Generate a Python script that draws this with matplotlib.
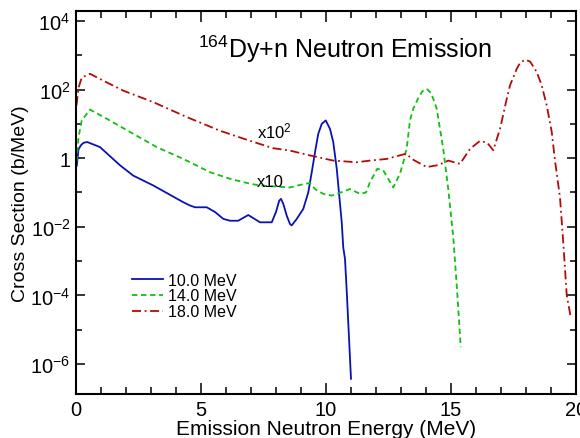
import numpy as np
import matplotlib
matplotlib.use("Agg")
import matplotlib.pyplot as plt
from matplotlib.ticker import FixedLocator, FixedFormatter

plt.rcParams['font.family'] = ['Liberation Sans', 'DejaVu Sans']
plt.rcParams['mathtext.fontset'] = 'custom'
plt.rcParams['mathtext.rm'] = 'Liberation Sans'
plt.rcParams['mathtext.it'] = 'Liberation Sans:italic'
plt.rcParams['mathtext.bf'] = 'Liberation Sans:bold'

# Emission spectra for 164Dy+n at three incident energies (14 MeV scaled x10, 18 MeV x100)
e10 = [0.03, 0.1, 0.2, 0.3, 0.45, 0.96, 1.76, 2.29, 3.09, 4.29, 4.55, 4.76, 5.23, 5.56, 5.89,
       6.16, 6.49, 6.89, 7.36, 7.83, 8.0, 8.13, 8.2, 8.29, 8.43, 8.56, 8.63, 8.83, 9.09,
       9.29, 9.43, 9.56, 9.69, 9.83, 9.99, 10.16, 10.29, 10.43, 10.53, 10.63, 10.69, 10.76,
       10.83, 11.0]
xs10 = [0.6, 1.8, 2.4, 2.8, 2.95, 2.1, 0.62, 0.31, 0.16, 0.052, 0.042, 0.037, 0.037, 0.027,
        0.017, 0.015, 0.015, 0.022, 0.0135, 0.0135, 0.027, 0.058, 0.065, 0.047, 0.021, 0.012,
        0.011, 0.017, 0.033, 0.10, 0.39, 1.48, 5.1, 10.0, 12.6, 7.1, 2.95, 0.49, 0.081,
        0.0135, 0.0025, 0.00115, 0.00013, 3.7e-7]

e14 = [0.02, 0.1, 0.23, 0.56, 1.23, 2.16, 3.23, 4.29, 5.36, 6.16, 6.96, 7.36, 8.56, 8.96,
       9.36, 9.56, 9.89, 10.23, 10.56, 10.96, 11.36, 11.6, 11.76, 12.05, 12.29, 12.69,
       12.96, 13.1, 13.23, 13.36, 13.49, 13.69, 13.85, 14.03, 14.2, 14.29, 14.43, 14.56,
       14.69, 14.89, 15.09, 15.23, 15.39]
xs14 = [0.8, 4.0, 12.6, 26.0, 14.1, 5.8, 2.1, 0.95, 0.39, 0.25, 0.18, 0.16, 0.14, 0.166,
        0.19, 0.126, 0.091, 0.081, 0.098, 0.126, 0.091, 0.10, 0.20, 0.49, 0.44, 0.14,
        0.355, 0.79, 2.0, 12.6, 27.5, 56.0, 89.0, 105.0, 79.0, 54.0, 27.5, 7.1,
        1.86, 0.126, 0.005, 0.000195, 3.1e-6]

e18 = [0.02, 0.1, 0.23, 0.56, 1.09, 1.89, 3.09, 4.43, 5.76, 6.96, 7.89, 8.56, 9.36, 10.29,
       11.23, 11.76, 12.43, 13.2, 13.5, 14.03, 14.5, 14.89, 15.36, 15.76, 16.16, 16.45,
       16.69, 16.96, 17.23, 17.36, 17.63, 17.76, 17.96, 18.16, 18.43, 18.63, 18.83, 19.03,
       19.16, 19.36, 19.49, 19.63, 19.79]
xs18 = [35.0, 112.0, 224.0, 288.0, 182.0, 93.0, 43.0, 15.8, 6.3, 3.2, 1.95, 1.66, 1.2, 0.85,
        0.76, 0.85, 0.95, 1.35, 0.89, 0.55, 0.63, 0.85, 0.68, 1.86, 3.2, 2.8,
        1.7, 7.1, 54.0, 132.0, 400.0, 600.0, 740.0, 660.0, 324.0, 132.0, 34.0, 5.8,
        0.85, 0.071, 0.0035, 0.0001, 2.3e-5]

labels = ['10.0 MeV', '14.0 MeV', '18.0 MeV']

fig = plt.figure(figsize=(5.8, 4.39), dpi=100)
ax = fig.add_axes([76/580, 1 - 395/439, 500/580, 383/439])

ax.plot(e10, xs10, color='#0a12b4', lw=1.3, ls='-', label=labels[0])
ax.plot(e14, xs14, color='#10c010', lw=1.3, ls=(0, (3, 2)), label=labels[1])
ax.plot(e18, xs18, color='#b40a0a', lw=1.3, ls=(0, (5, 2, 1, 2)), label=labels[2])

ax.set_yscale('log')
ax.set_xlim(0, 20)
ax.set_ylim(10**-6.875, 10**4.29)

ax.xaxis.set_major_locator(FixedLocator([0, 5, 10, 15, 20]))
ax.xaxis.set_minor_locator(FixedLocator([i for i in range(21) if i % 5]))
ax.yaxis.set_major_locator(FixedLocator([1e-6, 1e-4, 1e-2, 1, 1e2, 1e4]))
ax.yaxis.set_major_formatter(FixedFormatter([r'10$^{-6}$', r'10$^{-4}$', r'10$^{-2}$', '1',
                                             r'10$^{2}$', r'10$^{4}$']))
ax.yaxis.set_minor_locator(FixedLocator([1e-5, 1e-3, 1e-1, 1e1, 1e3]))
ax.yaxis.set_minor_formatter(FixedFormatter([]))

ax.tick_params(axis='both', which='both', direction='in', top=True, right=True,
               width=1.1, labelsize=14.5, colors='black')
ax.tick_params(axis='x', which='major', length=8, pad=4)
ax.tick_params(axis='x', which='minor', length=4.7)
ax.tick_params(axis='y', which='major', length=6.5, pad=4)
ax.tick_params(axis='y', which='minor', length=4.3)
for sp in ax.spines.values():
    sp.set_linewidth(1.5)

ax.set_xlabel('Emission Neutron Energy (MeV)', fontsize=15, labelpad=0)
ax.set_ylabel('Cross Section (b/MeV)', fontsize=14, labelpad=1)

ax.text(10.74, 10**3.2, r'$^{164}$Dy+n Neutron Emission', fontsize=18,
        ha='center', va='center')
ax.text(7.25, 10**0.8, r'x10$^{2}$', fontsize=12, ha='left', va='center')
ax.text(7.25, 10**-0.69, 'x10', fontsize=12, ha='left', va='center')

leg = ax.legend(loc='upper left', bbox_to_anchor=(0.112, 0.317), frameon=False,
                fontsize=11.5, handlelength=1.95, handletextpad=0.3, labelspacing=0.05,
                borderaxespad=0, borderpad=0)

fig.savefig('out.png', dpi=100)
